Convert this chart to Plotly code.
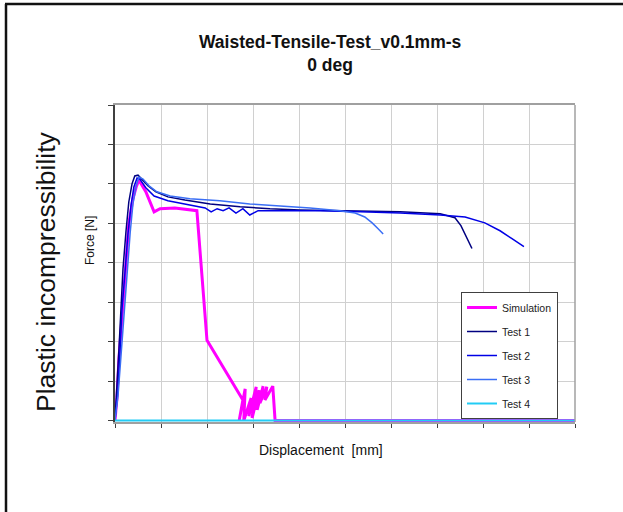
import plotly.graph_objects as go

# ---- data (displacement in mm-grid units, force in grid units) ----
sim_x = [0, 0.043, 0.087, 0.174, 0.24, 0.30, 0.39, 0.46, 0.52, 0.67, 0.85, 0.98, 1.30, 1.78,
         2.0, 2.78, 2.70, 2.83, 2.80, 2.96, 2.91, 3.07, 2.98, 3.13, 3.09, 3.22, 3.15, 3.30,
         3.26, 3.43, 3.48, 10.0]
sim_y = [0, 0.57, 1.58, 3.02, 4.10, 4.99, 5.62, 5.92, 6.10, 5.80, 5.29, 5.37, 5.39, 5.32,
         2.03, 0.52, 0.0, 0.80, 0.0, 0.57, 0.11, 0.85, 0.06, 0.77, 0.27, 0.87, 0.44, 0.85,
         0.52, 0.87, 0.0, 0.0]

t1_x = [0, 0.043, 0.087, 0.13, 0.174, 0.24, 0.30, 0.37, 0.43, 0.50, 0.59, 0.72, 0.89, 1.15,
        1.52, 2.07, 2.72, 3.37, 4.02, 5.11, 6.20, 7.07, 7.39, 7.52, 7.63, 7.76]
t1_y = [0, 0.77, 1.83, 2.84, 3.85, 4.81, 5.54, 6.00, 6.20, 6.22, 6.12, 5.95, 5.80, 5.67,
        5.59, 5.49, 5.42, 5.37, 5.34, 5.32, 5.29, 5.24, 5.14, 4.94, 4.66, 4.36]

t2_x = [0, 0.065, 0.11, 0.15, 0.22, 0.28, 0.35, 0.41, 0.48, 0.54, 0.67, 0.85, 1.15, 1.63,
        1.96, 2.09, 2.22, 2.35, 2.48, 2.63, 2.78, 2.93, 3.11, 3.59, 4.46, 5.33, 6.20, 7.07,
        7.61, 8.04, 8.37, 8.63, 8.89]
t2_y = [0, 0.77, 1.78, 2.79, 3.80, 4.71, 5.47, 5.92, 6.15, 6.12, 5.90, 5.69, 5.57, 5.47,
        5.39, 5.29, 5.37, 5.32, 5.39, 5.26, 5.37, 5.21, 5.32, 5.32, 5.32, 5.29, 5.26, 5.21,
        5.16, 5.01, 4.81, 4.61, 4.41]

t3_x = [0, 0.065, 0.13, 0.196, 0.26, 0.33, 0.39, 0.46, 0.52, 0.61, 0.74, 0.91, 1.20, 1.63,
        2.28, 2.93, 3.59, 4.24, 4.89, 5.22, 5.43, 5.59, 5.72, 5.83]
t3_y = [0, 0.62, 1.63, 2.71, 3.80, 4.76, 5.49, 5.95, 6.17, 6.12, 5.95, 5.80, 5.69, 5.62,
        5.57, 5.49, 5.44, 5.39, 5.32, 5.26, 5.16, 5.01, 4.86, 4.73]

t4_x = [0, 10.0]
t4_y = [0, 0]

# ---- layout geometry (pixels) ----
W, H = 623, 512
L, R, T, B = 115, 575, 105, 422


def px(x):
    return (x - L) / (R - L)


def py(y):
    return (B - y) / (B - T)


FONT = "Arial, Liberation Sans, sans-serif"

fig = go.Figure()
fig.add_trace(go.Scatter(x=sim_x, y=sim_y, mode="lines", name="Simulation",
                         line=dict(color="#FF00FF", width=3), legendgroup="a"))
fig.add_trace(go.Scatter(x=t1_x, y=t1_y, mode="lines", name="Test 1",
                         line=dict(color="#000080", width=1.5), legendgroup="b"))
fig.add_trace(go.Scatter(x=t2_x, y=t2_y, mode="lines", name="Test 2",
                         line=dict(color="#0000E6", width=1.5), legendgroup="c"))
fig.add_trace(go.Scatter(x=t3_x, y=t3_y, mode="lines", name="Test 3",
                         line=dict(color="#3A6EF5", width=1.5), legendgroup="d"))
fig.add_trace(go.Scatter(x=t4_x, y=t4_y, mode="lines", name="Test 4",
                         line=dict(color="#22CCF5", width=2), legendgroup="e"))

fig.update_layout(
    width=W, height=H,
    margin=dict(l=L, r=W - R, t=T, b=H - B),
    paper_bgcolor="white", plot_bgcolor="white",
    font=dict(family=FONT, color="#111111"),
    xaxis=dict(range=[0, 10], dtick=1, showticklabels=False, showgrid=True,
               gridcolor="#D0D0D0", gridwidth=1, zeroline=False,
               showline=True, linecolor="#A0A0A0", linewidth=1.5, mirror=True,
               ticks="outside", ticklen=4, tickcolor="#404040",
               layer="below traces"),
    yaxis=dict(range=[-0.04, 8], tick0=0, dtick=1, showticklabels=False, showgrid=True,
               gridcolor="#D0D0D0", gridwidth=1, zeroline=False,
               showline=True, linecolor="#404040", linewidth=1.5,
               ticks="outside", ticklen=5, tickcolor="#404040",
               layer="below traces"),
    showlegend=True,
    legend=dict(x=px(461), y=py(292), xanchor="left", yanchor="top",
                bgcolor="white", bordercolor="#404040", borderwidth=1,
                font=dict(family=FONT, size=10.5, color="#222222"),
                tracegroupgap=5),
    shapes=[
        dict(type="line", xref="paper", yref="paper", x0=1, x1=1, y0=0, y1=1,
             line=dict(color="#A0A0A0", width=1.5)),
        dict(type="line", xref="paper", yref="paper", x0=px(5), x1=px(623),
             y0=py(4), y1=py(4), line=dict(color="#111111", width=2.5)),
        dict(type="line", xref="paper", yref="paper", x0=px(6), x1=px(6),
             y0=py(4), y1=py(512), line=dict(color="#111111", width=2.5)),
    ],
    annotations=[
        dict(text="<b>Waisted-Tensile-Test_v0.1mm-s</b><br><b>0 deg</b>",
             xref="paper", yref="paper", x=px(330), y=py(54),
             xanchor="center", yanchor="middle", showarrow=False,
             font=dict(family=FONT, size=17.5, color="#111111")),
        dict(text="Displacement  [mm]", xref="paper", yref="paper",
             x=px(321), y=py(450), xanchor="center", yanchor="middle",
             showarrow=False, font=dict(family=FONT, size=14, color="#111111")),
        dict(text="Force [N]", xref="paper", yref="paper",
             x=px(90), y=py(241), xanchor="center", yanchor="middle",
             textangle=-90, showarrow=False,
             font=dict(family=FONT, size=12, color="#111111")),
        dict(text="Plastic incompressibility", xref="paper", yref="paper",
             x=px(46), y=py(272), xanchor="center", yanchor="middle",
             textangle=-90, showarrow=False,
             font=dict(family=FONT, size=26.5, color="#111111")),
    ],
)

fig.write_html("out.html")
